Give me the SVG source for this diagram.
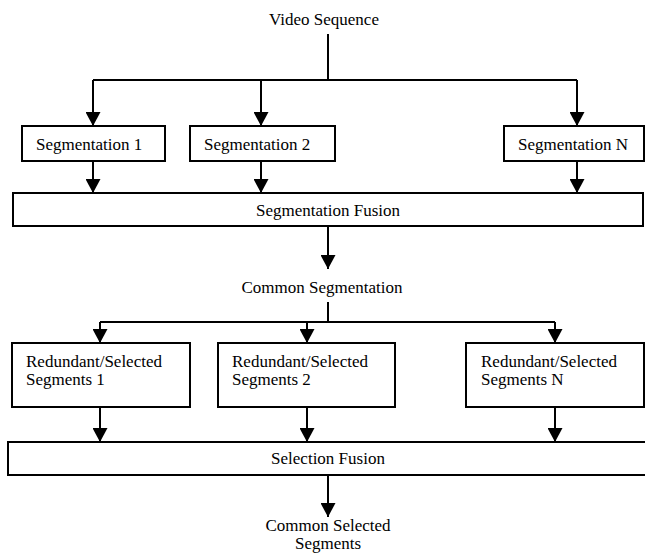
<svg xmlns="http://www.w3.org/2000/svg" width="645" height="560" viewBox="0 0 645 560">
<style>
text { font-family: "Liberation Serif", "Times New Roman", serif; font-size: 17px; fill: #000; }
.c { text-anchor: middle; }
.box { fill: #fff; stroke: #000; stroke-width: 2; }
.ln { fill: none; stroke: #000; stroke-width: 2; }
.ar { fill: none; stroke: #000; stroke-width: 2; marker-end: url(#ah); }
</style>
<defs>
<marker id="ah" markerWidth="15" markerHeight="15" refX="14" refY="7.5" orient="auto" markerUnits="userSpaceOnUse">
<path d="M0,0 L14,7.5 L0,15 Z" fill="#000"/>
</marker>
</defs>
<g id="connectors">
<path class="ln" d="M328,34 V80 M93,80 H577"/>
<path class="ar" d="M93,80 V126"/>
<path class="ar" d="M261,80 V126"/>
<path class="ar" d="M577,80 V126"/>
<path class="ar" d="M93,161 V193"/>
<path class="ar" d="M261,161 V193"/>
<path class="ar" d="M577,161 V193"/>
<path class="ar" d="M328,226 V269"/>
<path class="ln" d="M328,302 V322 M100,322 H555"/>
<path class="ar" d="M100,322 V343"/>
<path class="ar" d="M307,322 V343"/>
<path class="ar" d="M555,322 V343"/>
<path class="ar" d="M100,407 V442"/>
<path class="ar" d="M307,407 V442"/>
<path class="ar" d="M555,407 V442"/>
<path class="ar" d="M328,475 V517"/>
</g>
<g id="video-sequence"><text class="c" x="324" y="25">Video Sequence</text></g>
<g id="seg1"><rect class="box" x="22" y="126" width="143" height="35"/><text x="36" y="150">Segmentation 1</text></g>
<g id="seg2"><rect class="box" x="190" y="126" width="145" height="35"/><text x="204" y="150">Segmentation 2</text></g>
<g id="segN"><rect class="box" x="504" y="126" width="140" height="35"/><text x="518" y="150">Segmentation N</text></g>
<g id="seg-fusion"><rect class="box" x="13" y="193" width="630" height="33"/><text class="c" x="328" y="216">Segmentation Fusion</text></g>
<g id="common-seg"><text class="c" x="322" y="293">Common Segmentation</text></g>
<g id="rs1"><rect class="box" x="12" y="343" width="178" height="64"/><text x="26" y="367">Redundant/Selected</text><text x="26" y="385">Segments 1</text></g>
<g id="rs2"><rect class="box" x="218" y="343" width="177" height="64"/><text x="232" y="367">Redundant/Selected</text><text x="232" y="385">Segments 2</text></g>
<g id="rsN"><rect class="box" x="466" y="343" width="178" height="64"/><text x="481" y="367">Redundant/Selected</text><text x="481" y="385">Segments N</text></g>
<g id="sel-fusion"><rect class="box" x="8" y="442" width="640" height="33"/><text class="c" x="328" y="464">Selection Fusion</text></g>
<g id="common-selected"><text class="c" x="328" y="531">Common Selected</text><text class="c" x="328" y="549">Segments</text></g>
</svg>
